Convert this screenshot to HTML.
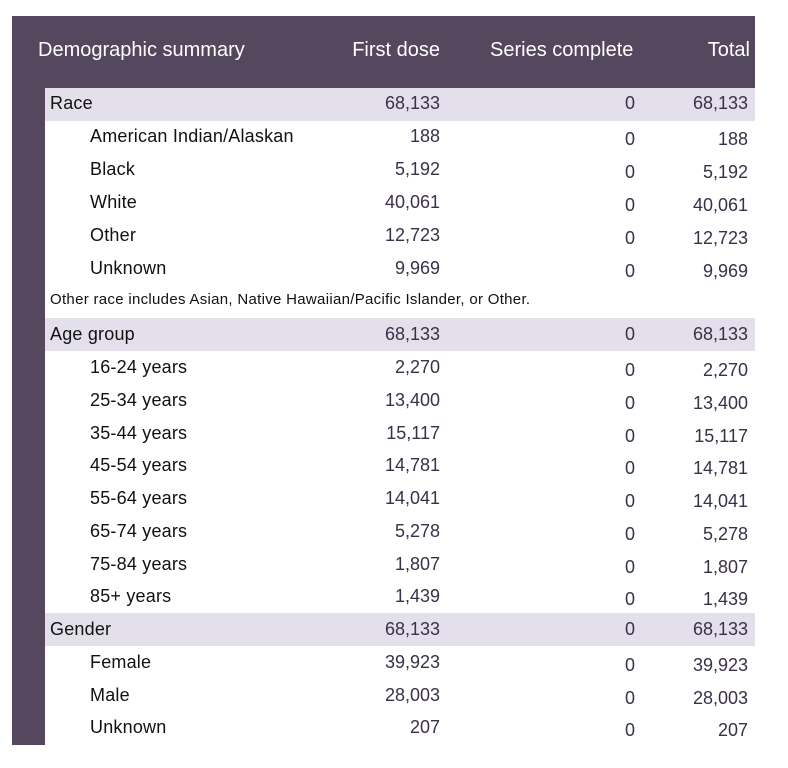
<!DOCTYPE html>
<html><head><style>
body{margin:0;width:788px;height:768px;background:#fff;position:relative;font-family:"Liberation Sans",sans-serif;overflow:hidden}
.bg{position:absolute;left:12px;top:16px;width:743px;height:72px;background:#55475e}
.bar{position:absolute;left:12px;top:16px;width:33px;height:729px;background:#55475e}
.h{position:absolute;color:#fff;font-size:20px;top:39px;white-space:nowrap}
.band{position:absolute;left:45px;width:710px;height:33px;background:#e3e0ec}
.t{position:absolute;font-size:18px;letter-spacing:0.2px;color:#111;white-space:nowrap}
.n{position:absolute;font-size:18px;color:#3a3048;text-align:right;white-space:nowrap}
</style></head><body>
<div class="bg"></div><div class="bar"></div>
<div class="h" style="left:38px">Demographic summary</div>
<div class="h" style="right:348px">First dose</div>
<div class="h" style="left:490px">Series complete</div>
<div class="h" style="right:38px">Total</div>
<div class="band" style="top:88px"></div>
<div class="band" style="top:318px"></div>
<div class="band" style="top:613px"></div>
<div id="rows"></div>
<div class="t" style="left:50px;top:291px;font-size:15px;letter-spacing:0.3px">Other race includes Asian, Native Hawaiian/Pacific Islander, or Other.</div>
<script>
var R=[["Race","68,133","68,133",104,1,0],["American Indian/Alaskan","188","188",137,0,3],["Black","5,192","5,192",170,0,3],["White","40,061","40,061",203,0,3],["Other","12,723","12,723",236,0,3],["Unknown","9,969","9,969",269,0,3],
["Age group","68,133","68,133",335,1,0],["16-24 years","2,270","2,270",368,0,3],["25-34 years","13,400","13,400",401,0,3],["35-44 years","15,117","15,117",434,0,3],["45-54 years","14,781","14,781",466,0,3],["55-64 years","14,041","14,041",499,0,3],["65-74 years","5,278","5,278",532,0,3],["75-84 years","1,807","1,807",565,0,3],["85+ years","1,439","1,439",597,0,3],
["Gender","68,133","68,133",630,1,0],["Female","39,923","39,923",663,0,3],["Male","28,003","28,003",696,0,3],["Unknown","207","207",728,0,3]];
var h="";R.forEach(function(r){var y=r[3]-11;
h+='<div class="t" style="left:'+(r[4]?50:90)+'px;top:'+y+'px">'+r[0]+'</div>';
h+='<div class="n" style="right:348px;top:'+y+'px">'+r[1]+'</div>';
h+='<div class="n" style="left:625px;top:'+(y+r[5])+'px">0</div>';
h+='<div class="n" style="right:40px;top:'+(y+r[5])+'px">'+r[2]+'</div>';});
document.getElementById("rows").innerHTML=h;
</script>
</body></html>
